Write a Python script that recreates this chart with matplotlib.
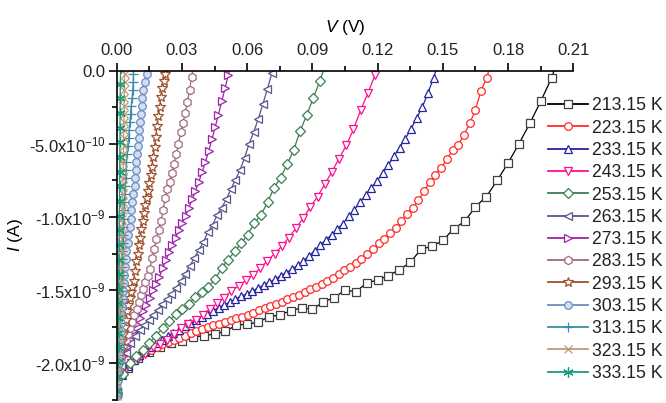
import matplotlib
matplotlib.use('Agg')
import matplotlib.pyplot as plt
import numpy as np
from matplotlib.ticker import MultipleLocator, FormatStrFormatter

plt.rcParams['font.family'] = ['Liberation Sans', 'DejaVu Sans']
plt.rcParams['mathtext.fontset'] = 'custom'
plt.rcParams['mathtext.rm'] = 'Liberation Sans'
plt.rcParams['mathtext.it'] = 'Liberation Sans:italic'
plt.rcParams['mathtext.default'] = 'regular'
plt.rcParams['font.size'] = 12

# current in nA, sampled at a fixed voltage step (V) per temperature
step_213 = 0.005
i_213 = [-2.20, -2.03, -1.96, -1.92, -1.89, -1.86, -1.85, -1.82, -1.81, -1.80,
         -1.78, -1.74, -1.73, -1.72, -1.68, -1.67, -1.64, -1.62, -1.63, -1.58,
         -1.55, -1.50, -1.51, -1.45, -1.43, -1.40, -1.36, -1.31, -1.22, -1.20,
         -1.16, -1.08, -1.03, -0.93, -0.86, -0.75, -0.63, -0.50, -0.36, -0.21,
         -0.05, 0.17]

step_223 = 0.002618
i_223 = [-2.21, -2.08, -2.02, -1.98, -1.95, -1.925, -1.905, -1.885, -1.87, -1.855,
         -1.84, -1.825, -1.81, -1.795, -1.78, -1.765, -1.752, -1.74, -1.728, -1.717,
         -1.705, -1.693, -1.682, -1.67, -1.653, -1.636, -1.622, -1.607, -1.593, -1.577,
         -1.558, -1.543, -1.53, -1.511, -1.494, -1.476, -1.46, -1.44, -1.418, -1.39,
         -1.365, -1.34, -1.313, -1.287, -1.255, -1.22, -1.178, -1.15, -1.111, -1.075,
         -1.03, -0.98, -0.935, -0.885, -0.825, -0.76, -0.71, -0.665, -0.605, -0.545,
         -0.505, -0.44, -0.36, -0.27, -0.137, -0.05, 0.09]

step_233 = 0.002602
i_233 = [-2.21, -2.08, -2.02, -1.98, -1.945, -1.915, -1.89, -1.86, -1.84, -1.815,
         -1.79, -1.77, -1.745, -1.725, -1.705, -1.685, -1.665, -1.64, -1.62, -1.60,
         -1.58, -1.56, -1.54, -1.525, -1.505, -1.485, -1.465, -1.445, -1.425, -1.40,
         -1.38, -1.355, -1.33, -1.30, -1.265, -1.23, -1.19, -1.155, -1.12, -1.08,
         -1.045, -0.995, -0.95, -0.90, -0.85, -0.80, -0.755, -0.70, -0.645, -0.585,
         -0.525, -0.465, -0.40, -0.325, -0.25, -0.155, -0.05, 0.07]

step_243 = 0.0033
i_243 = [-2.21, -2.06, -2.0, -1.96, -1.935, -1.89, -1.865, -1.84, -1.80, -1.76,
         -1.73, -1.705, -1.67, -1.625, -1.59, -1.55, -1.505, -1.47, -1.43, -1.395,
         -1.35, -1.30, -1.25, -1.20, -1.14, -1.075, -1.007, -0.93, -0.86, -0.775,
         -0.69, -0.60, -0.51, -0.40, -0.27, -0.155, -0.03, 0.12]

step_253 = 0.003016
i_253 = [-2.21, -2.07, -2.0, -1.95, -1.91, -1.86, -1.81, -1.76, -1.71, -1.665,
         -1.63, -1.595, -1.545, -1.51, -1.475, -1.425, -1.35, -1.29, -1.235, -1.18,
         -1.12, -1.04, -0.985, -0.90, -0.80, -0.73, -0.64, -0.54, -0.41, -0.30,
         -0.185, -0.068, 0.06]

step_263 = 0.0021
i_263 = [-2.21, -2.02, -1.93, -1.86, -1.81, -1.77, -1.74, -1.70, -1.67, -1.635,
         -1.595, -1.56, -1.525, -1.485, -1.44, -1.39, -1.335, -1.28, -1.225, -1.17,
         -1.10, -1.055, -0.985, -0.935, -0.88, -0.81, -0.745, -0.68, -0.595, -0.50,
         -0.42, -0.33, -0.23, -0.125, -0.015, 0.09]

step_273 = 0.00151
i_273 = [-2.21, -2.04, -1.95, -1.885, -1.83, -1.78, -1.73, -1.69, -1.645, -1.60,
         -1.55, -1.50, -1.455, -1.41, -1.35, -1.295, -1.24, -1.19, -1.14, -1.09,
         -1.04, -0.99, -0.935, -0.88, -0.82, -0.76, -0.695, -0.625, -0.55, -0.47,
         -0.385, -0.30, -0.21, -0.12, -0.03, 0.06]

step_283 = 0.001015
i_283 = [-2.21, -2.05, -1.96, -1.89, -1.84, -1.80, -1.76, -1.715, -1.67, -1.625,
         -1.58, -1.535, -1.49, -1.445, -1.40, -1.355, -1.28, -1.215, -1.15, -1.09,
         -1.03, -0.95, -0.87, -0.81, -0.76, -0.70, -0.635, -0.57, -0.50, -0.42,
         -0.36, -0.29, -0.215, -0.13, -0.04, 0.05]

step_293 = 0.0006
i_293 = [-2.21, -2.07, -1.98, -1.91, -1.85, -1.80, -1.75, -1.70, -1.645, -1.60,
         -1.555, -1.51, -1.475, -1.435, -1.37, -1.30, -1.25, -1.19, -1.14, -1.085,
         -1.03, -0.975, -0.92, -0.872, -0.82, -0.765, -0.71, -0.655, -0.59, -0.52,
         -0.45, -0.375, -0.31, -0.245, -0.18, -0.12, -0.07, -0.023, 0.04]

# steepest curves: voltage read at fixed current levels (nA)
i_steep = [0.04, -0.02, -0.075, -0.13, -0.185, -0.24, -0.295, -0.35, -0.405, -0.46,
           -0.515, -0.57, -0.625, -0.68, -0.735, -0.79, -0.845, -0.90, -0.955, -1.01,
           -1.065, -1.12, -1.175, -1.23, -1.285, -1.34, -1.395, -1.45, -1.505, -1.56,
           -1.615, -1.67, -1.725, -1.78, -1.835, -1.89, -1.945, -2.00, -2.055, -2.11,
           -2.165, -2.22]
v_303 = [0.0147, 0.0138, 0.0130, 0.0122, 0.0118, 0.0115, 0.0111, 0.0107, 0.0104, 0.0101,
         0.0098, 0.0094, 0.0091, 0.0088, 0.0086, 0.0082, 0.0077, 0.0072, 0.0068, 0.0064,
         0.0059, 0.0054, 0.0050, 0.0045, 0.0041, 0.0037, 0.0034, 0.0032, 0.0030, 0.0027,
         0.0025, 0.0022, 0.0020, 0.0018, 0.0015, 0.0013, 0.0011, 0.0009, 0.0007, 0.0005,
         0.0003, 0.0]
v_313 = [0.0078, 0.0077, 0.0076, 0.0074, 0.0071, 0.0067, 0.0064, 0.0061, 0.0058, 0.0055,
         0.0051, 0.0048, 0.0045, 0.0043, 0.0041, 0.0039, 0.0037, 0.0035, 0.0034, 0.0032,
         0.0030, 0.0028, 0.0027, 0.0026, 0.0025, 0.0024, 0.0023, 0.0021, 0.0019, 0.0018,
         0.0016, 0.0015, 0.0013, 0.0012, 0.0010, 0.0009, 0.0007, 0.0006, 0.0004, 0.0003,
         0.0001, 0.0]
v_323 = [0.0037, 0.0036, 0.0036, 0.0035, 0.0035, 0.0034, 0.0034, 0.0033, 0.0033, 0.0032,
         0.0032, 0.0031, 0.0031, 0.0030, 0.0029, 0.0029, 0.0028, 0.0027, 0.0027, 0.0026,
         0.0025, 0.0024, 0.0023, 0.0023, 0.0022, 0.0021, 0.0020, 0.0019, 0.0017, 0.0016,
         0.0014, 0.0013, 0.0012, 0.0010, 0.0009, 0.0008, 0.0006, 0.0005, 0.0004, 0.0002,
         0.0001, 0.0]
i_333 = [0.02, -0.09, -0.19, -0.29, -0.39, -0.49, -0.59, -0.69, -0.79, -0.89, -0.99,
         -1.09, -1.19, -1.29, -1.39, -1.49, -1.59, -1.69, -1.79, -1.89, -1.99, -2.09, -2.19]
v_333 = [0.0018, 0.0017, 0.0016, 0.0016, 0.0015, 0.0015, 0.0014, 0.0014, 0.0013, 0.0013,
         0.0012, 0.0012, 0.0011, 0.0010, 0.0010, 0.0009, 0.0008, 0.0007, 0.0006, 0.0005,
         0.0004, 0.0002, 0.0001]

labels = ['213.15 K', '223.15 K', '233.15 K', '243.15 K', '253.15 K', '263.15 K',
          '273.15 K', '283.15 K', '293.15 K', '303.15 K', '313.15 K', '323.15 K',
          '333.15 K']
colors = ['#000000', '#ff2a2a', '#2424a0', '#ff0d8c', '#3b7d52', '#56568a',
          '#9c22a8', '#a06a84', '#a0522d', '#6a8cc0', '#3a8bb0', '#c09a70', '#1a9c7c']
markers = ['s', 'o', '^', 'v', 'D', '<', '>', 'h', '*', 'o', '+', 'x', (6, 2, 0)]
sizes = [5.5, 5.5, 5.5, 5.5, 5, 5.5, 5.5, 6, 7, 5.5, 7, 6, 7.5]

curves = [
    (np.arange(len(i_213)) * step_213, i_213),
    (np.arange(len(i_223)) * step_223, i_223),
    (np.arange(len(i_233)) * step_233, i_233),
    (np.arange(len(i_243)) * step_243, i_243),
    (np.arange(len(i_253)) * step_253, i_253),
    (np.arange(len(i_263)) * step_263, i_263),
    (np.arange(len(i_273)) * step_273, i_273),
    (np.arange(len(i_283)) * step_283, i_283),
    (np.arange(len(i_293)) * step_293, i_293),
    (v_303, i_steep),
    (v_313, i_steep),
    (v_323, i_steep),
    (v_333, i_333),
]

fig = plt.figure(figsize=(6.66, 4.03), dpi=100)
ax = fig.add_axes([0.1752, 0.0074, 0.6856, 0.8172])
# overlay in pixel units for the legend block
lax = fig.add_axes([0, 0, 1, 1], facecolor='none')
lax.set_xlim(0, 666)
lax.set_ylim(403, 0)
lax.set_axis_off()


def style(lab, c):
    face = '#d3def0' if lab == '303.15 K' else 'white'
    mec = '#404040' if c == '#000000' else c
    return face, mec


for (v, cur), lab, c, m, s in zip(curves, labels, colors, markers, sizes):
    face, mec = style(lab, c)
    ax.plot(v, cur, color=c, lw=0.9, marker=m, ms=s, mfc=face, mec=mec, mew=0.9)

# legend rows
for k, (lab, c, m, s) in enumerate(zip(labels, colors, markers, sizes)):
    face, mec = style(lab, c)
    y = 104 + 22.3 * k
    lax.plot([548, 588], [y, y], color=c, lw=1.3)
    lax.plot([568], [y], color=c, marker=m, ms=s, mfc=face, mec=mec, mew=0.9)
    lax.text(592, y + 6.4, lab, fontsize=12.7, color='#222222', va='baseline', ha='left')

ax.set_xlim(0, 0.21)
ax.set_ylim(-2.25, 0)
ax.xaxis.tick_top()
ax.xaxis.set_label_position('top')
ax.set_xticks([0, 0.03, 0.06, 0.09, 0.12, 0.15, 0.18, 0.21])
ax.xaxis.set_major_formatter(FormatStrFormatter('%.2f'))
ax.xaxis.set_minor_locator(MultipleLocator(0.015))
ax.set_yticks([0, -0.5, -1.0, -1.5, -2.0])
ax.set_yticklabels(['0.0', '-5.0x10$^{-10}$', '-1.0x10$^{-9}$',
                    '-1.5x10$^{-9}$', '-2.0x10$^{-9}$'])
ax.yaxis.set_minor_locator(MultipleLocator(0.25))

for side in ['right', 'bottom']:
    ax.spines[side].set_visible(False)
for side in ['left', 'top']:
    ax.spines[side].set_linewidth(1.2)
ax.tick_params(which='major', direction='out', length=6, width=1.2,
               labelsize=12, labelcolor='#222222')
ax.tick_params(which='minor', direction='out', length=3.5, width=1.2)
ax.tick_params(axis='x', pad=3)
ax.tick_params(axis='y', pad=2)

ax.set_xlabel('$\\it{V}$ (V)', fontsize=12.5, labelpad=8)
ax.set_ylabel('$\\it{I}$ (A)', fontsize=12.5)
ax.yaxis.set_label_coords(-0.2, 0.5)

fig.savefig('out.png', dpi=100)
